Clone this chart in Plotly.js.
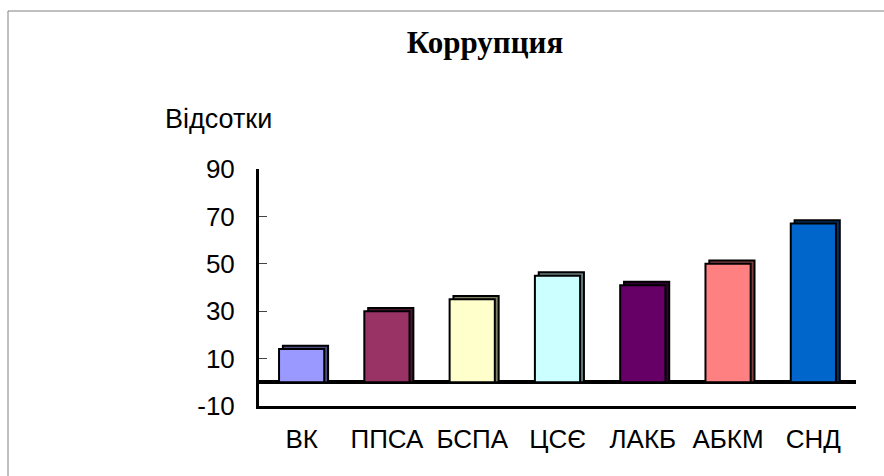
<!DOCTYPE html>
<html>
<head>
<meta charset="utf-8">
<script src="https://cdn.plot.ly/plotly-3.0.1.min.js"></script>
<style>
html,body{margin:0;padding:0;background:#fff;}
#chart{width:884px;height:476px;}
</style>
</head>
<body>
<div id="chart"></div>
<script>
// Data
const categories = ["ВК", "ППСА", "БСПА", "ЦСЄ", "ЛАКБ", "АБКМ", "СНД"];
const values = [14, 30, 35, 45, 41, 50, 67];
const tickValues = [-10, 10, 30, 50, 70, 90];
const titleText = "Коррупция";
const yLabel = "Відсотки";

// Styles
const colors = ["#9999FF", "#993366", "#FFFFCC", "#CCFFFF", "#660066", "#FF8080", "#0066CC"];
function darken(hex, f) {
  const n = parseInt(hex.slice(1), 16);
  const r = Math.round(((n >> 16) & 255) * f);
  const g = Math.round(((n >> 8) & 255) * f);
  const b = Math.round((n & 255) * f);
  return "rgb(" + r + "," + g + "," + b + ")";
}
const sideColors = colors.map(c => darken(c, 0.5));
const barWidth = 0.53;
const depthX = 0.045;  // category units
const depthY = 1.4;    // value units

const depthTrace = {
  type: "bar",
  x: categories,
  y: values.map(v => v + depthY),
  base: 0,
  width: barWidth,
  offset: -barWidth / 2 + depthX,
  marker: { color: sideColors, line: { color: "#000", width: 2 } },
  hoverinfo: "skip",
  showlegend: false
};
const frontTrace = {
  type: "bar",
  x: categories,
  y: values,
  width: barWidth,
  offset: -barWidth / 2,
  marker: { color: colors, line: { color: "#000", width: 2 } },
  showlegend: false
};

const layout = {
  width: 884,
  height: 476,
  paper_bgcolor: "#fff",
  plot_bgcolor: "#fff",
  margin: { l: 259, r: 28, t: 169, b: 70, pad: 0 },
  barmode: "overlay",
  title: {
    text: "<b>" + titleText + "</b>",
    font: { family: "Liberation Serif, Times New Roman, serif", size: 31, color: "#000" },
    x: 485 / 884, xanchor: "center",
    y: 1 - 42 / 476, yanchor: "middle"
  },
  font: { family: "Liberation Sans, Arial, sans-serif", color: "#000" },
  xaxis: {
    type: "category",
    showline: true, linecolor: "#000", linewidth: 3,
    ticks: "", showgrid: false, zeroline: false,
    tickfont: { size: 26, family: "Liberation Sans, Arial, sans-serif", color: "#000" },
    ticklabelstandoff: 8,
    range: [-0.5, categories.length - 0.5]
  },
  yaxis: {
    range: [-10, 90],
    tickmode: "array",
    tickvals: tickValues,
    ticktext: tickValues.map(String),
    showline: true, linecolor: "#000", linewidth: 3,
    ticks: "inside", ticklen: 8, tickcolor: "#444", tickwidth: 1,
    showgrid: false,
    zeroline: true, zerolinecolor: "#000", zerolinewidth: 4,
    tickfont: { size: 26, family: "Liberation Sans, Arial, sans-serif", color: "#000" },
    ticklabelstandoff: 16
  },
  annotations: [{
    text: yLabel,
    xref: "paper", yref: "paper",
    x: (163 - 259) / 597, xanchor: "left",
    y: (406 - 119) / 237, yanchor: "middle",
    showarrow: false,
    font: { size: 27, family: "Liberation Sans, Arial, sans-serif", color: "#000" }
  }],
  shapes: [{
    type: "rect", xref: "paper", yref: "paper",
    x0: (8 - 259) / 597, x1: 1.2,
    y0: (406 - 11) / 237, y1: -0.5,
    line: { color: "#808080", width: 1 },
    fillcolor: "rgba(0,0,0,0)",
    layer: "below"
  }]
};

Plotly.newPlot("chart", [depthTrace, frontTrace], layout, { displayModeBar: false, staticPlot: true });
</script>
</body>
</html>
